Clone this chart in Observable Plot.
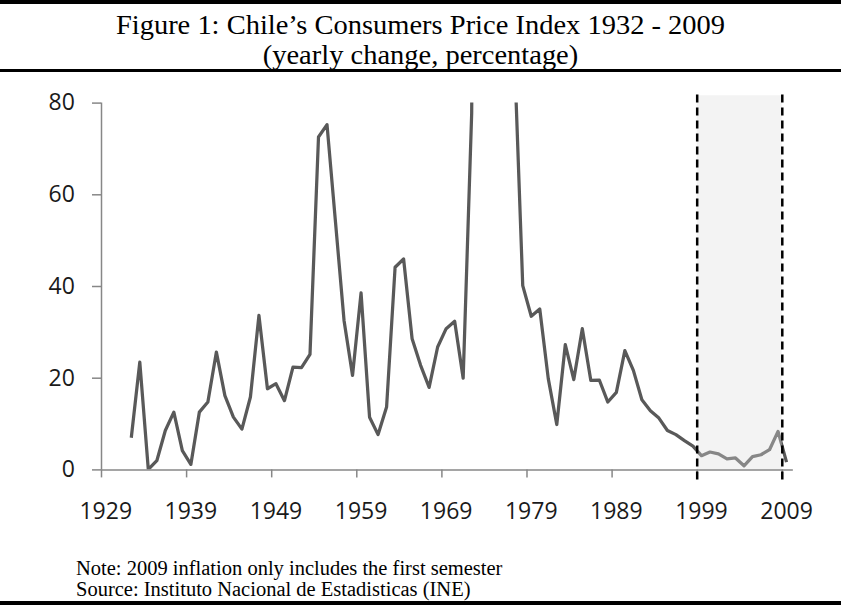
<!DOCTYPE html>
<html>
<head>
<meta charset="utf-8">
<script src="https://cdn.jsdelivr.net/npm/d3@7"></script>
<script src="https://cdn.jsdelivr.net/npm/@observablehq/plot@0.6"></script>
<style>
  html, body { margin: 0; padding: 0; background: #fff; }
  #page { position: relative; width: 841px; height: 606px; overflow: hidden; background: #fff; }
  .rule { position: absolute; left: 0; width: 841px; background: #000; }
  .serif { position: absolute; font-family: "Liberation Serif", "Times New Roman", serif; white-space: nowrap; color: #000; }
  .title { left: 0; width: 841px; text-align: center; font-size: 27px; line-height: 30px; height: 30px; transform: scaleX(1.055); transform-origin: 420.5px 50%; }
  .note { left: 76px; font-size: 20.5px; line-height: 21px; height: 21px; }
  #chart { position: absolute; left: 0; top: 72px; }
</style>
</head>
<body>
<div id="page">
  <div class="rule" style="top:0px;height:4px;"></div>
  <div class="serif title" style="top:10px;">Figure 1: Chile’s Consumers Price Index 1932 - 2009</div>
  <div class="serif title" style="top:40px;">(yearly change, percentage)</div>
  <div class="rule" style="top:68.5px;height:3.5px;"></div>
  <div id="chart"></div>
  <div class="serif note" style="top:557.6px;">Note: 2009 inflation only includes the first semester</div>
  <div class="serif note" style="top:579.3px;">Source: Instituto Nacional de Estadisticas (INE)</div>
  <div class="rule" style="top:601px;height:4px;"></div>
</div>
<script>
const years = [1932,1933,1934,1935,1936,1937,1938,1939,1940,1941,1942,1943,1944,1945,1946,1947,1948,1949,1950,1951,1952,1953,1954,1955,1956,1957,1958,1959,1960,1961,1962,1963,1964,1965,1966,1967,1968,1969,1970,1971,1972,1973,1974,1975,1976,1977,1978,1979,1980,1981,1982,1983,1984,1985,1986,1987,1988,1989,1990,1991,1992,1993,1994,1995,1996,1997,1998,1999,2000,2001,2002,2003,2004,2005,2006,2007,2008,2009];
const inflation = [7.0,23.5,0.1,2.0,8.6,12.6,4.2,1.2,12.6,14.8,25.7,16.2,11.5,8.9,15.9,33.7,17.7,18.8,15.1,22.4,22.3,25.2,72.6,75.3,54.0,32.6,20.6,38.6,11.5,7.7,13.7,44.2,46.0,28.6,22.8,18.0,26.8,30.8,32.4,20.0,77.8,352.8,504.7,374.7,211.8,91.9,40.2,33.5,35.1,19.9,9.9,27.3,19.7,30.8,19.5,19.6,14.8,16.9,26.0,21.7,15.3,12.9,11.3,8.6,7.7,6.4,5.2,3.1,3.9,3.5,2.4,2.6,0.9,2.9,3.3,4.4,8.4,1.7];
const xTickYears = [1929,1939,1949,1959,1969,1979,1989,1999,2009];
const yTicks = [0,20,40,60,80];
const shadeYears = [1999, 2009];

const data = years.map((year, i) => ({year, value: inflation[i]}));
const axisGrey = "#878787";

const chart = Plot.plot({
  width: 841,
  height: 480,
  marginTop: 30.6,
  marginBottom: 82.6,
  marginLeft: 101,
  marginRight: 50.7,
  style: {fontFamily: "'Open Sans', sans-serif", fontSize: "23px", color: "#1a1a1a", background: "transparent", overflow: "visible"},
  x: {domain: [1929, 2010]},
  y: {domain: [0, 80]},
  marks: [
    Plot.lineY(data, {x: d => d.year + 0.5, y: "value", stroke: "#595959", strokeWidth: 3.25, strokeLinejoin: "round", strokeLinecap: "butt", clip: true}),
    Plot.rect([{x1: shadeYears[0], x2: shadeYears[1]}], {x1: "x1", x2: "x2", y1: 0, y2: 81.6, fill: "#dcdcdc", fillOpacity: 0.35}),
    Plot.ruleY([0], {x1: 1929, x2: 2010.3, stroke: axisGrey, strokeWidth: 1.5}),
    Plot.ruleX([1929], {y1: 0, y2: 80, stroke: axisGrey, strokeWidth: 1.5}),
    Plot.axisY(yTicks, {tickSize: 9, tickPadding: 17.7, stroke: axisGrey, strokeWidth: 1.5, fill: "#1a1a1a", fontSize: 23, label: null}),
    Plot.axisX(xTickYears, {tickSize: 8, tickFormat: () => "", stroke: axisGrey, strokeWidth: 1.5, label: null}),
    Plot.axisX(xTickYears.map(d => d + 0.5), {tickSize: 0, tickPadding: 33, tickFormat: d => String(d - 0.5), fill: "#1a1a1a", fontSize: 23, label: null}),
    Plot.ruleX(shadeYears, {y1: -2.2, y2: 82.1, stroke: "#000", strokeWidth: 2.5, strokeDasharray: "8,5"})
  ]
});
document.getElementById("chart").appendChild(chart);
</script>
</body>
</html>
